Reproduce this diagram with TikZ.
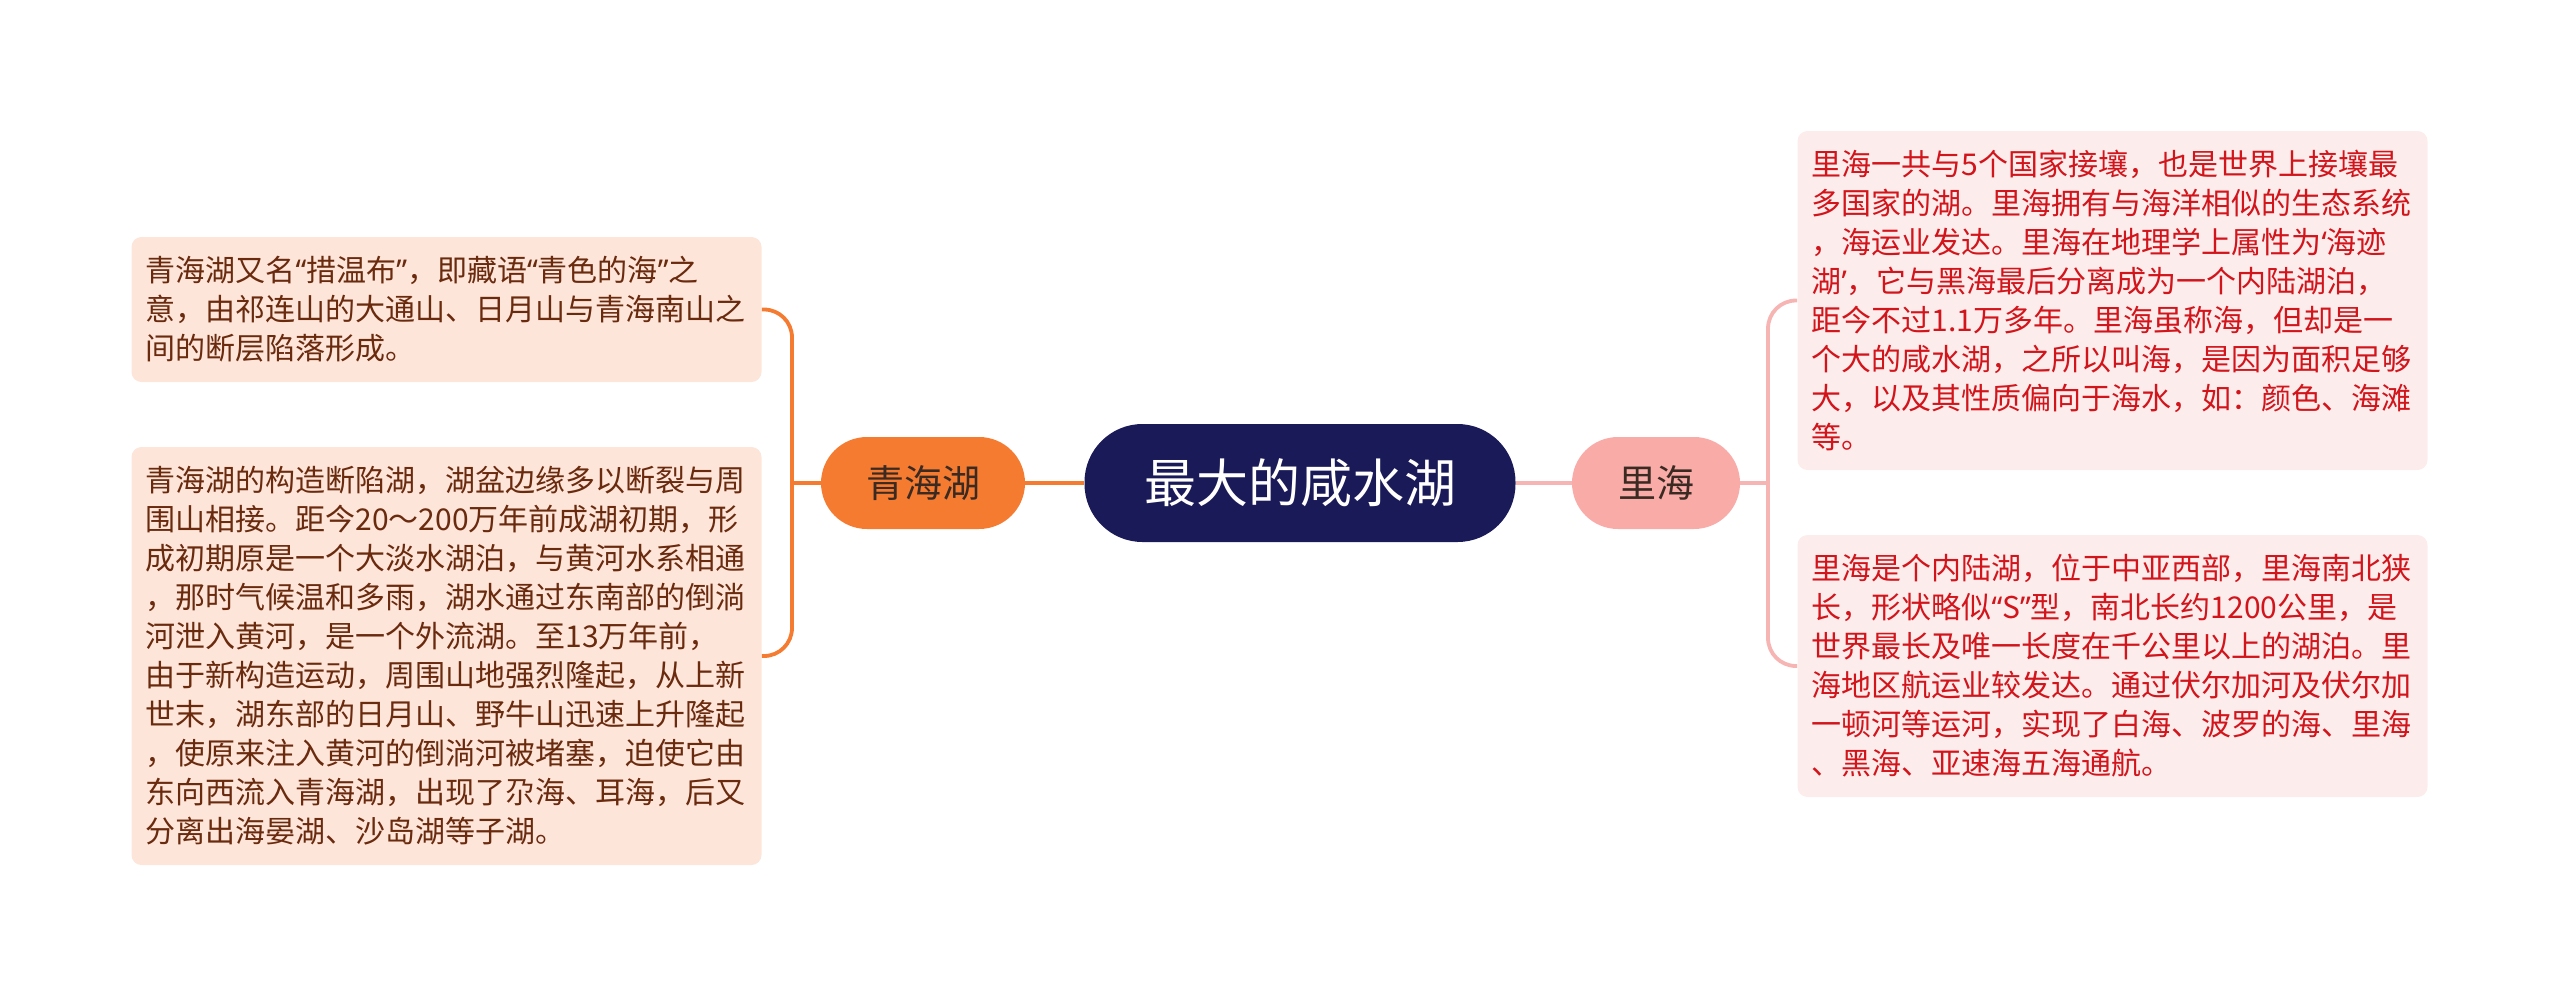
\documentclass[tikz,border=0pt]{standalone}
\usepackage{fontspec}
\setmainfont{Noto Sans CJK SC}
\newfontfamily\quotefont{Noto Sans}
\newcommand{\dqo}{{\quotefont “}}
\newcommand{\dqc}{{\quotefont ”}}
\newcommand{\sqo}{{\quotefont ‘}}
\newcommand{\sqc}{{\quotefont ’}}
\definecolor{rootblue}{HTML}{1B1A58}
\definecolor{qorange}{HTML}{F57B31}
\definecolor{lpink}{HTML}{F9ABA8}
\definecolor{lline}{HTML}{F6B4B2}
\definecolor{qfill}{HTML}{FDE5D9}
\definecolor{qtext}{HTML}{6A2A0E}
\definecolor{lfill}{HTML}{FDECEC}
\definecolor{ltext}{HTML}{D2141B}
\definecolor{topictext}{HTML}{3B2A22}
\begin{document}
\begin{tikzpicture}[x=0.5pt,y=-0.5pt]
\tikzstyle{root} = [fill=rootblue, text=white, rounded corners=29pt, minimum width=215.5pt, minimum height=59pt, font=\fontsize{26}{30}\selectfont];
\tikzstyle{topic} = [rounded corners=23pt, minimum height=46pt, text=topictext, font=\fontsize{19}{23}\selectfont];
\tikzstyle{note} = [rounded corners=5pt, text width=301pt, inner xsep=7pt, align=left, font=\fontsize{15}{19.5}\selectfont];
\tikzstyle{qnote} = [note, fill=qfill, text=qtext];
\tikzstyle{lnote} = [note, fill=lfill, text=ltext];
\tikzstyle{qedge} = [draw=qorange, line width=1.9pt];
\tikzstyle{ledge} = [draw=lline, line width=1.9pt];

\useasboundingbox (0,0) rectangle (2560,996);

\node[root] (root) at (1300,483) {最大的咸水湖};
\node[topic, fill=qorange, minimum width=102pt] (qh) at (923,483) {青海湖};
\node[topic, fill=lpink, minimum width=84pt] (lh) at (1656,483) {里海};

% left side
\node[qnote, minimum height=72.5pt] (q1) at (446.5,309.5) {青海湖又名\dqo 措温布\dqc ，即藏语\dqo 青色的海\dqc 之\\意，由祁连山的大通山、日月山与青海南山之\\间的断层陷落形成。};
\node[qnote, minimum height=209pt] (q2) at (446.5,656) {青海湖的构造断陷湖，湖盆边缘多以断裂与周\\围山相接。距今20～200万年前成湖初期，形\\成初期原是一个大淡水湖泊，与黄河水系相通\\，那时气候温和多雨，湖水通过东南部的倒淌\\河泄入黄河，是一个外流湖。至13万年前，\\由于新构造运动，周围山地强烈隆起，从上新\\世末，湖东部的日月山、野牛山迅速上升隆起\\，使原来注入黄河的倒淌河被堵塞，迫使它由\\东向西流入青海湖，出现了尕海、耳海，后又\\分离出海晏湖、沙岛湖等子湖。};

% right side
\node[lnote, minimum height=169.5pt] (l1) at (2112.5,300.5) {里海一共与5个国家接壤，也是世界上接壤最\\多国家的湖。里海拥有与海洋相似的生态系统\\，海运业发达。里海在地理学上属性为\sqo 海迹\\湖\sqc ，它与黑海最后分离成为一个内陆湖泊，\\距今不过1.1万多年。里海虽称海，但却是一\\个大的咸水湖，之所以叫海，是因为面积足够\\大，以及其性质偏向于海水，如：颜色、海滩\\等。};
\node[lnote, minimum height=131pt] (l2) at (2112.5,666) {里海是个内陆湖，位于中亚西部，里海南北狭\\长，形状略似\dqo S\dqc 型，南北长约1200公里，是\\世界最长及唯一长度在千公里以上的湖泊。里\\海地区航运业较发达。通过伏尔加河及伏尔加\\一顿河等运河，实现了白海、波罗的海、里海\\、黑海、亚速海五海通航。};

\coordinate (qj) at (792,483);
\coordinate (lj) at (1768,483);

\draw[qedge] (root.west) -- (qh.east);
\draw[qedge] (qh.west) -- (qj);
\draw[qedge, rounded corners=14pt] (q1.east) -| (qj) |- (q2.east);

\draw[ledge] (root.east) -- (lh.west);
\draw[ledge] (lh.east) -- (lj);
\draw[ledge, rounded corners=14pt] (l1.west) -| (lj) |- (l2.west);
\end{tikzpicture}
\end{document}
